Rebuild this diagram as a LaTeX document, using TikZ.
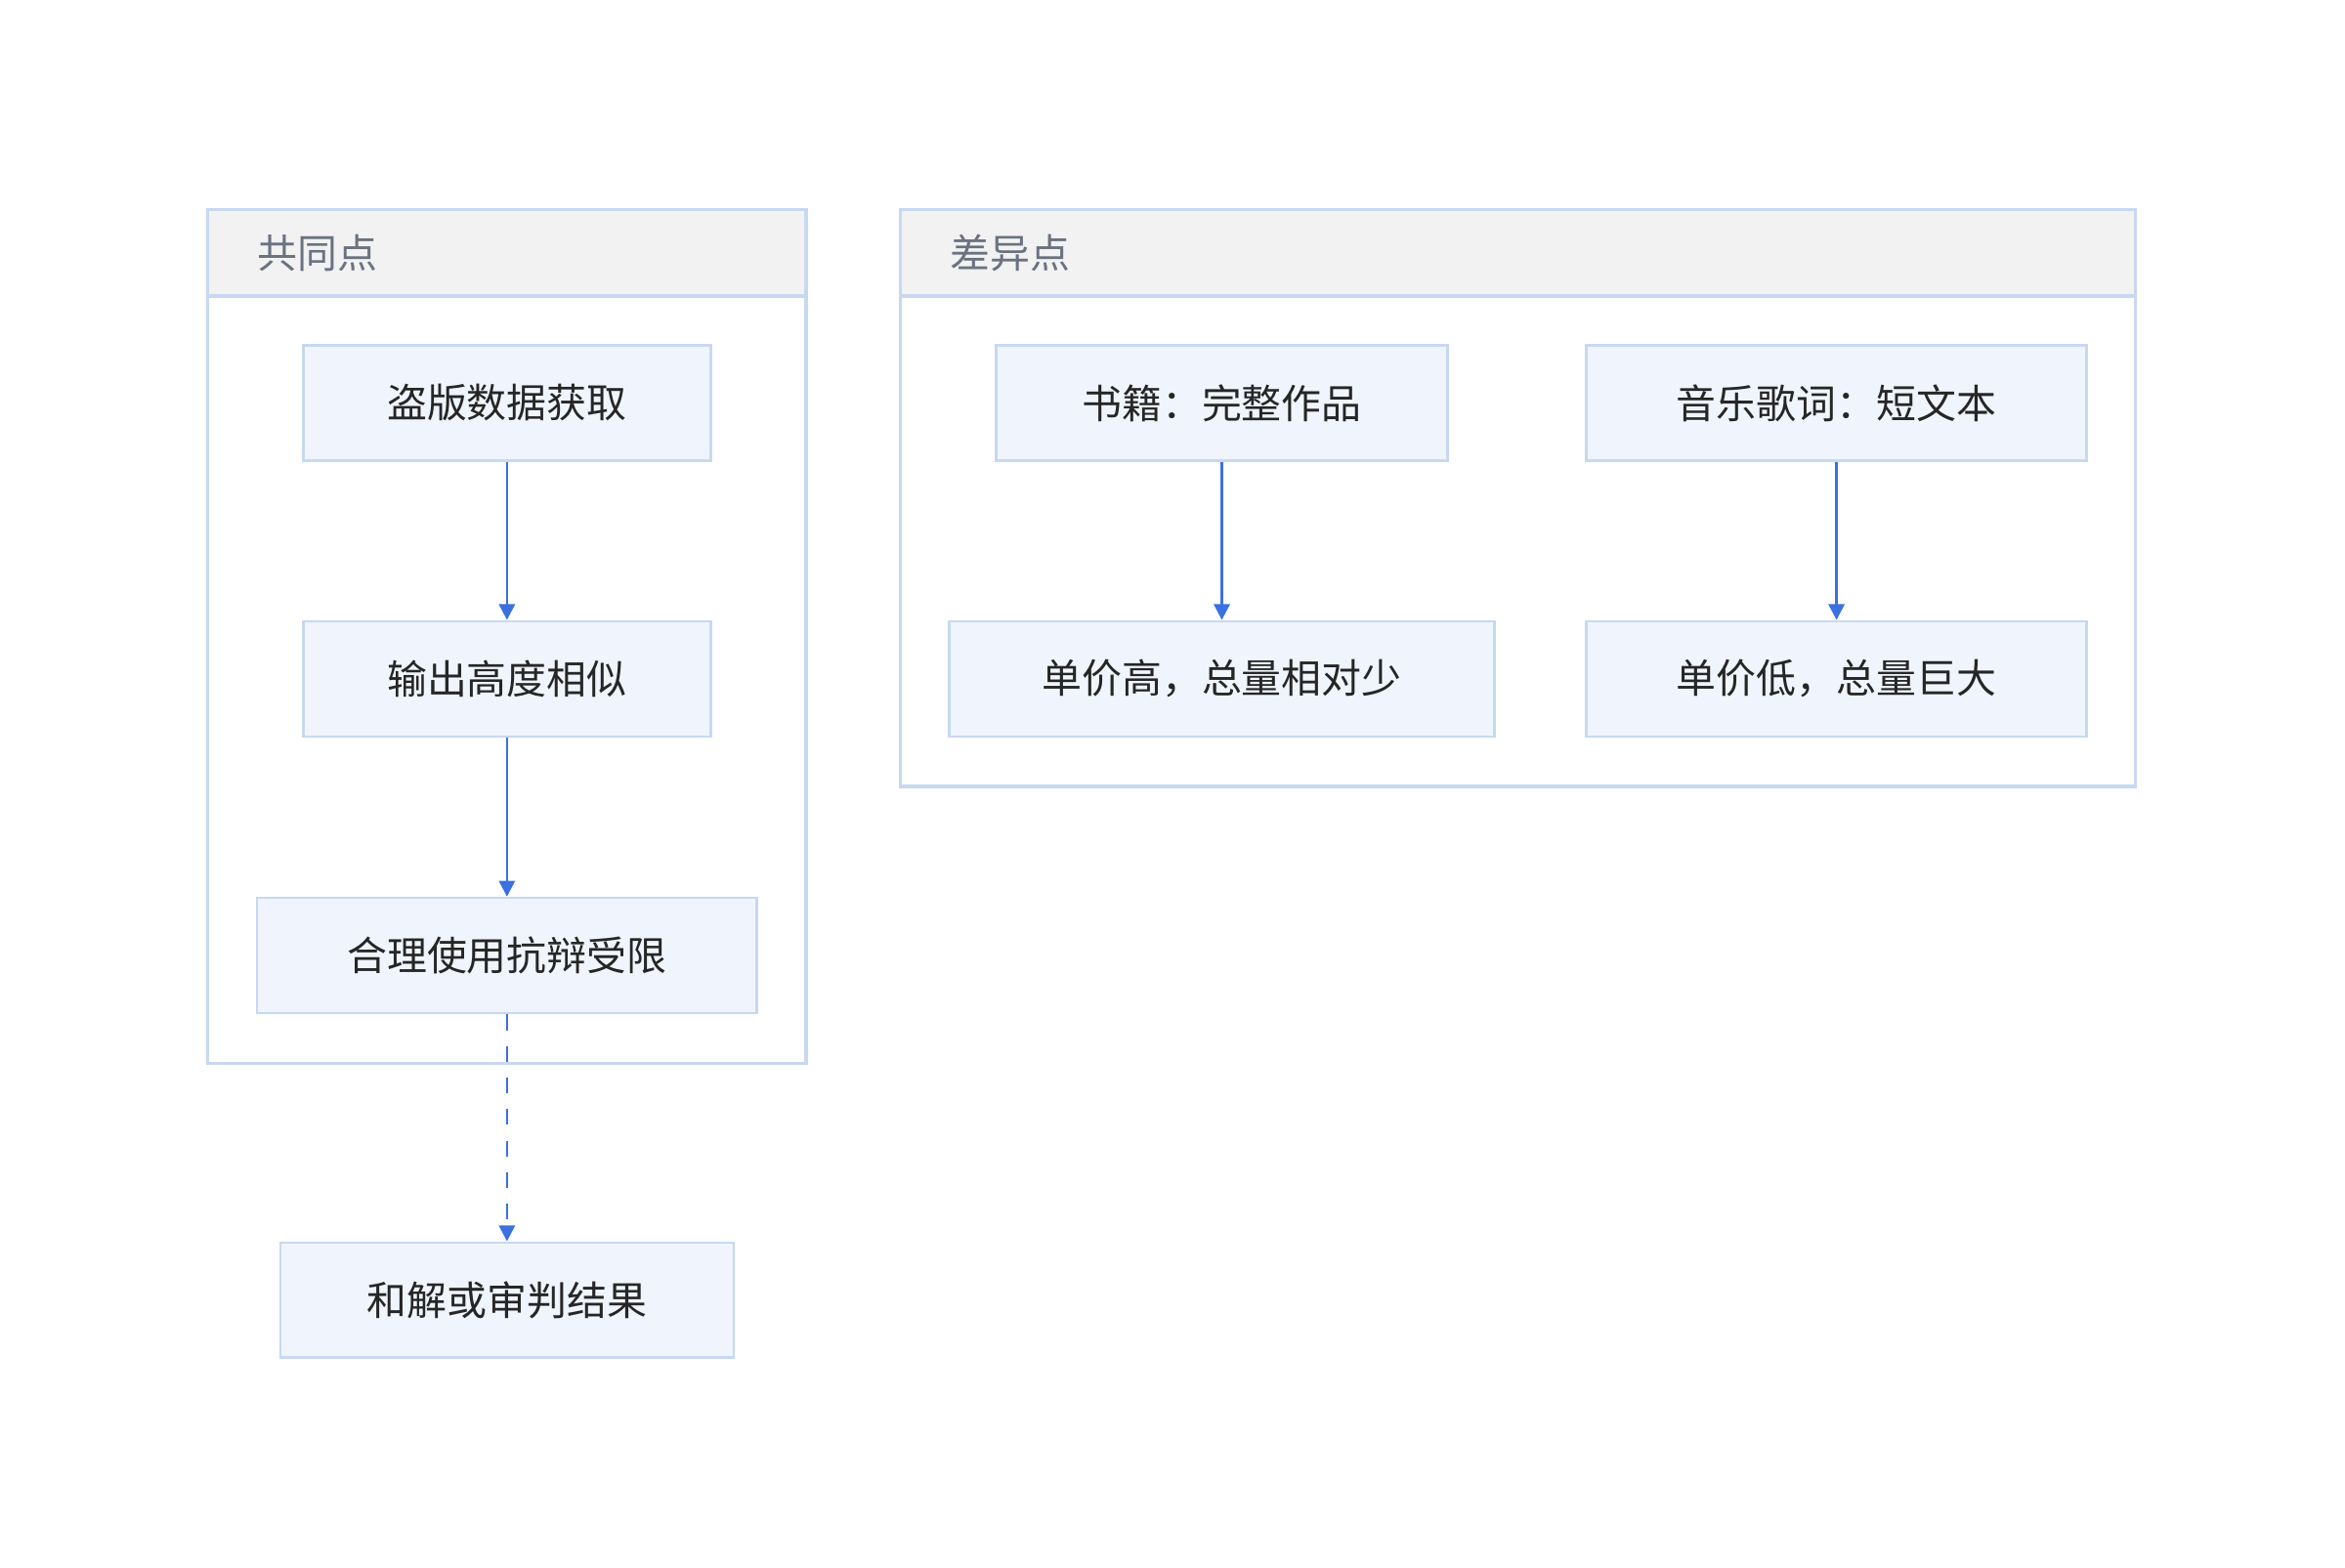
\documentclass[tikz,border=0pt]{standalone}
\usepackage{fontspec}
\setmainfont{Noto Sans CJK SC}
\usetikzlibrary{arrows.meta}
\definecolor{boxfill}{HTML}{F0F5FD}
\definecolor{boxline}{HTML}{C8D8F2}
\definecolor{arrowc}{HTML}{3B70E0}
\definecolor{headfill}{HTML}{F2F2F2}
\definecolor{titlec}{HTML}{6B7280}
\tikzset{
  box/.style={draw=boxline, line width=0.5pt, fill=boxfill, font=\fontsize{7.6}{9}\selectfont, text=black!85},
  flow/.style={-{Triangle[length=3pt,width=3pt]}, draw=arrowc, line width=0.5pt},
  grp/.style={draw=boxline, line width=0.6pt},
}
\begin{document}
\begin{tikzpicture}[x=0.01cm, y=-0.01cm]
  \useasboundingbox (0,0) rectangle (1568,1048);
  % groups
  \draw [grp] (139,140) rectangle (539,711);
  \draw [grp, fill=headfill] (139,140) rectangle (539,198);
  \node [anchor=west, text=titlec, font=\fontsize{7.6}{9}\selectfont] (t1) at (160,169) {共同点};
  \draw [grp] (602,140) rectangle (1428,526);
  \draw [grp, fill=headfill] (602,140) rectangle (1428,198);
  \node [anchor=west, text=titlec, font=\fontsize{7.6}{9}\selectfont] (t2) at (623,169) {差异点};
  % nodes
  \node [box, minimum width=2.72cm, minimum height=0.77cm] (get) at (339,269.5) {盗版数据获取};
  \node [box, minimum width=2.72cm, minimum height=0.77cm] (sim) at (339,454) {输出高度相似};
  \node [box, minimum width=3.34cm, minimum height=0.77cm] (fair) at (339,639) {合理使用抗辩受限};
  \node [box, minimum width=3.03cm, minimum height=0.77cm] (end) at (339,869.5) {和解或审判结果};
  \node [box, minimum width=3.02cm, minimum height=0.77cm] (book) at (817,269.5) {书籍：完整作品};
  \node [box, minimum width=3.34cm, minimum height=0.77cm] (lyric) at (1228,269.5) {音乐歌词：短文本};
  \node [box, minimum width=3.64cm, minimum height=0.77cm] (bookp) at (817,454) {单价高，总量相对少};
  \node [box, minimum width=3.34cm, minimum height=0.77cm] (lyricp) at (1228,454) {单价低，总量巨大};
  % connectors
  \draw [flow] (get) -- (sim);
  \draw [flow] (sim) -- (fair);
  \draw [flow, dash pattern=on 3pt off 3pt] (fair) -- (end);
  \draw [flow] (book) -- (bookp);
  \draw [flow] (lyric) -- (lyricp);
\end{tikzpicture}
\end{document}
